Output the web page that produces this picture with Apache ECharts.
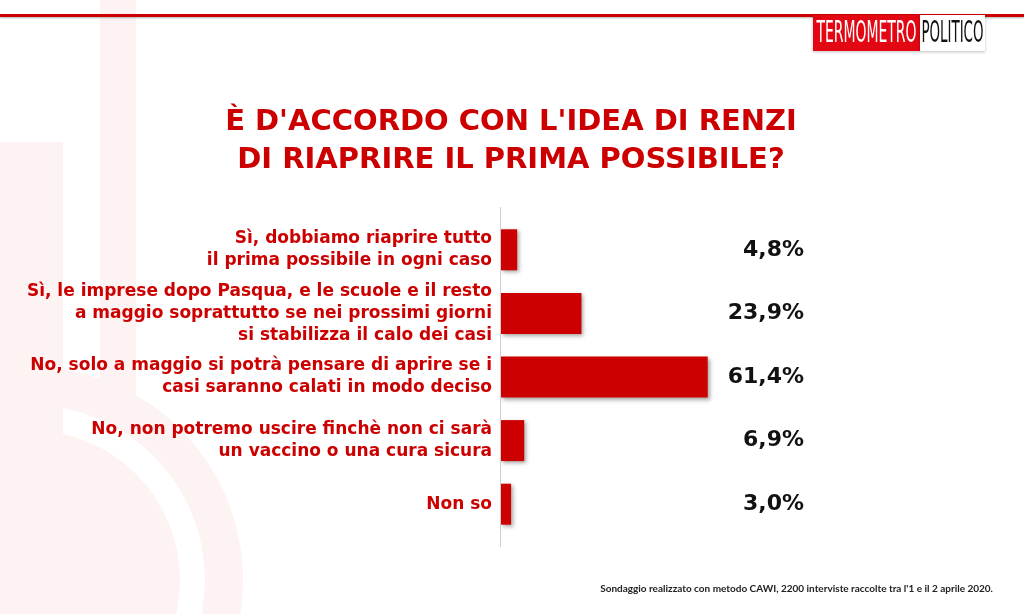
<!DOCTYPE html>
<html>
<head>
<meta charset="utf-8">
<script src="https://cdn.jsdelivr.net/npm/echarts@6/dist/echarts.min.js"></script>
<style>
html,body{margin:0;padding:0;background:#fff;}
#c{width:1024px;height:614px;}
</style>
</head>
<body>
<div id="c"></div>
<script>
const categories = [
  "Sì, dobbiamo riaprire tutto\nil prima possibile in ogni caso",
  "Sì, le imprese dopo Pasqua, e le scuole e il resto\na maggio soprattutto se nei prossimi giorni\nsi stabilizza il calo dei casi",
  "No, solo a maggio si potrà pensare di aprire se i\ncasi saranno calati in modo deciso",
  "No, non potremo uscire finchè non ci sarà\nun vaccino o una cura sicura",
  "Non so"
];
const values = [4.8, 23.9, 61.4, 6.9, 3.0];
const valueLabels = values.map(v => v.toFixed(1).replace('.', ',') + '%');
const titleText = "È D'ACCORDO CON L'IDEA DI RENZI\nDI RIAPRIRE IL PRIMA POSSIBILE?";
const footerText = "Sondaggio realizzato con metodo CAWI, 2200 interviste raccolte tra l'1 e il 2 aprile 2020.";

const RED = '#cc0000';
const WM = '#fdf3f3';
const FONT = '"DejaVu Sans", sans-serif';

const chart = echarts.init(document.getElementById('c'), null, {renderer: 'canvas'});
chart.setOption({
  backgroundColor: '#fff',
  animation: false,
  grid: {left: 501, top: 218, width: 303, height: 318},
  xAxis: {type: 'value', min: 0, max: 90, show: false},
  yAxis: [
    {
      type: 'category', data: categories, inverse: true, position: 'left',
      axisLine: {show: false}, axisTick: {show: false}, splitLine: {show: false},
      axisLabel: {color: RED, fontSize: 17, fontWeight: 'bold', lineHeight: 22, margin: 9, fontFamily: FONT, align: 'right', padding: [6, 0, 0, 0]}
    },
    {
      type: 'category', data: valueLabels, inverse: true, position: 'right',
      axisLine: {show: false}, axisTick: {show: false}, splitLine: {show: false},
      axisLabel: {inside: true, margin: 0, color: '#111', fontSize: 22, fontWeight: 'bold', fontFamily: FONT, padding: [5, 0, 0, 0]}
    }
  ],
  series: [{
    type: 'bar', data: values, barWidth: 41, yAxisIndex: 0,
    itemStyle: {color: RED, shadowColor: 'rgba(0,0,0,0.35)', shadowBlur: 4, shadowOffsetX: 2, shadowOffsetY: 2}
  }],
  graphic: [
    // watermark
    {type: 'rect', z: -10, silent: true, shape: {x: 100, y: -20, width: 36, height: 437, r: [18, 18, 0, 0]}, style: {fill: WM}},
    {type: 'rect', z: -10, silent: true, shape: {x: 0, y: 142, width: 63, height: 320}, style: {fill: WM}},
    {type: 'ring', z: -10, silent: true, shape: {cx: 30, cy: 580, r: 213, r0: 175}, style: {fill: WM}},
    {type: 'circle', z: -10, silent: true, shape: {cx: 30, cy: 580, r: 150}, style: {fill: WM}},
    // title
    {type: 'text', z: 5, silent: true, x: 511, y: 141, style: {text: titleText, fill: RED, font: 'bold 29px ' + FONT, lineHeight: 38, textAlign: 'center', textVerticalAlign: 'middle'}},
    // axis line
    {type: 'line', z: 5, silent: true, shape: {x1: 500.5, y1: 207, x2: 500.5, y2: 547}, style: {stroke: '#cfcfcf', lineWidth: 1}},
    // top rule
    {type: 'rect', z: 10, silent: true, shape: {x: 0, y: 14, width: 1024, height: 3}, style: {fill: RED, shadowColor: 'rgba(0,0,0,0.3)', shadowBlur: 2, shadowOffsetY: 1}},
    // logo
    {type: 'rect', z: 11, silent: true, shape: {x: 813, y: 15, width: 107, height: 36}, style: {fill: '#e30613', shadowColor: 'rgba(0,0,0,0.25)', shadowBlur: 3, shadowOffsetY: 1}},
    {type: 'rect', z: 11, silent: true, shape: {x: 920, y: 15, width: 65, height: 36}, style: {fill: '#fff', shadowColor: 'rgba(0,0,0,0.25)', shadowBlur: 3, shadowOffsetY: 1}},
    {type: 'text', z: 12, silent: true, x: 866.5, y: 34, scaleX: 0.5, style: {text: 'TERMOMETRO', fill: '#fff', font: '31px "Liberation Sans Narrow", "DejaVu Sans Condensed", sans-serif', textAlign: 'center', textVerticalAlign: 'middle'}},
    {type: 'text', z: 12, silent: true, x: 952.5, y: 34, scaleX: 0.48, style: {text: 'POLITICO', fill: '#111', font: '31px "Liberation Sans Narrow", "DejaVu Sans Condensed", sans-serif', textAlign: 'center', textVerticalAlign: 'middle'}},
    // footer
    {type: 'text', z: 5, silent: true, x: 993, y: 589, style: {text: footerText, fill: '#222', font: 'bold 10px Lato, sans-serif', textAlign: 'right', textVerticalAlign: 'middle'}}
  ]
});
</script>
</body>
</html>
